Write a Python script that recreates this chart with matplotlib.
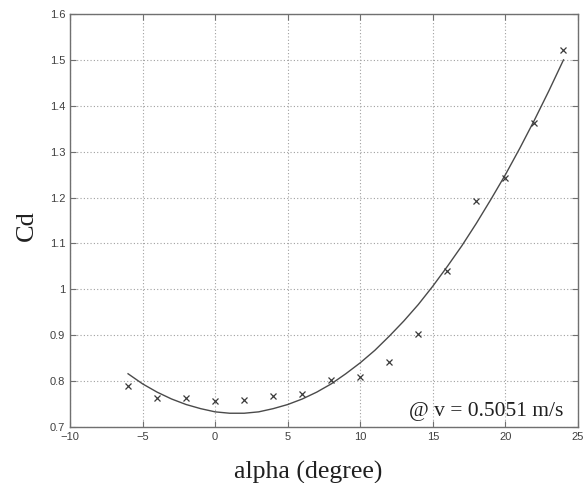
import matplotlib
matplotlib.use("Agg")
import matplotlib.pyplot as plt

# measured points
alpha_pts = [-6, -4, -2, 0, 2, 4, 6, 8, 10, 12, 14, 16, 18, 20, 22, 24]
cd_pts = [0.789, 0.763, 0.764, 0.757, 0.759, 0.768, 0.772, 0.803, 0.808, 0.841,
          0.903, 1.039, 1.192, 1.243, 1.362, 1.522]

# fitted curve, every degree
alpha_fit = list(range(-6, 25))
cd_fit = [0.816, 0.794, 0.776, 0.761, 0.749, 0.740, 0.733, 0.730, 0.730, 0.733,
          0.740, 0.749, 0.761, 0.776, 0.794, 0.816, 0.840, 0.867, 0.898, 0.931,
          0.967, 1.007, 1.050, 1.095, 1.144, 1.196, 1.250, 1.308, 1.369, 1.433,
          1.500]

xticks = [-10, -5, 0, 5, 10, 15, 20, 25]
xticklabels = ["\u221210", "\u22125", "0", "5", "10", "15", "20", "25"]
yticks = [0.7, 0.8, 0.9, 1.0, 1.1, 1.2, 1.3, 1.4, 1.5, 1.6]
yticklabels = ["0.7", "0.8", "0.9", "1", "1.1", "1.2", "1.3", "1.4", "1.5", "1.6"]

fig = plt.figure(figsize=(5.87, 4.83), dpi=100)
ax = fig.add_axes([70/587, 1-427/483, 508/587, 413/483])

ax.plot(alpha_fit, cd_fit, color="#4a4a4a", lw=1.0)
ax.plot(alpha_pts, cd_pts, linestyle="none", marker="x", color="#3a3a3a",
        markersize=4.5, markeredgewidth=0.9)

ax.set_xlim(-10, 25)
ax.set_ylim(0.7, 1.6)
ax.set_xticks(xticks)
ax.set_xticklabels(xticklabels)
ax.set_yticks(yticks)
ax.set_yticklabels(yticklabels)

ax.grid(True, linestyle=(0, (1, 2)), color="#a0a0a0", linewidth=0.8)
ax.tick_params(direction="in", top=True, right=True, length=4, width=0.8,
               colors="#707070", labelcolor="#404040", labelsize=8)
for t in ax.get_xticklabels() + ax.get_yticklabels():
    t.set_family("Liberation Sans")
for s in ax.spines.values():
    s.set_color("#707070")
    s.set_linewidth(1.0)

ax.set_xlabel("alpha (degree)", family="Liberation Serif", fontsize=18.5,
              color="#202020")
ax.xaxis.set_label_coords(0.469, -0.082)
ax.set_ylabel("Cd", family="Liberation Serif", fontsize=19, color="#202020")
ax.yaxis.set_label_coords(-0.063, 0.487)

ax.text(0.972, 0.027, "@ v = 0.5051 m/s", transform=ax.transAxes,
        ha="right", va="baseline", family="Liberation Serif", fontsize=15.5,
        color="#202020")

fig.savefig("out.png", dpi=100)
